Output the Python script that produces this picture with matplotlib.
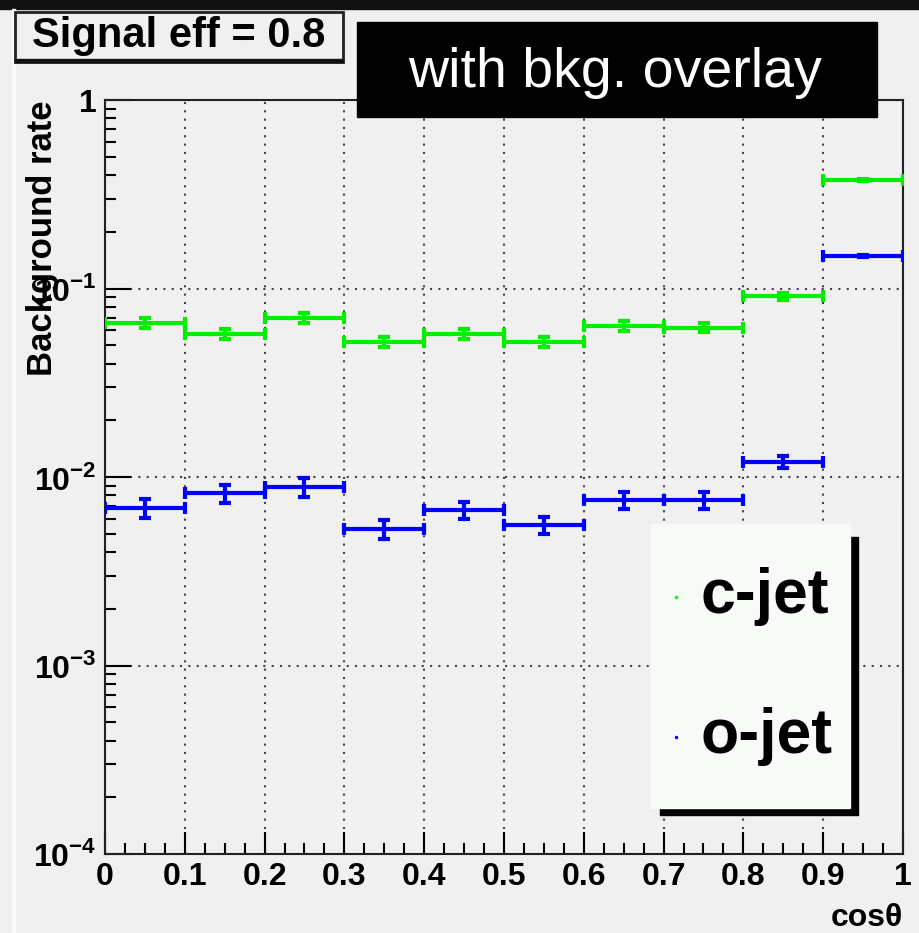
import numpy as np
import matplotlib.pyplot as plt
from matplotlib.patches import Rectangle
from matplotlib.ticker import FixedLocator, FixedFormatter, LogLocator, NullFormatter

plt.rcParams['font.family'] = ['Liberation Sans', 'DejaVu Sans']
plt.rcParams['mathtext.fontset'] = 'custom'
plt.rcParams['mathtext.rm'] = 'Liberation Sans:bold'
plt.rcParams['mathtext.bf'] = 'Liberation Sans:bold'

# bins in cos(theta)
bin_lo = np.arange(0.0, 1.0, 0.1)
bin_mid = bin_lo + 0.05

# background rates
c_jet = [0.0656, 0.0574, 0.0698, 0.0520, 0.0574, 0.0520, 0.0632, 0.0620, 0.0912, 0.376]
c_err = [0.0040, 0.0035, 0.0040, 0.0030, 0.0035, 0.0030, 0.0038, 0.0035, 0.0040, 0.0060]
o_jet = [0.00685, 0.00822, 0.00885, 0.00530, 0.00668, 0.00556, 0.00755, 0.00755, 0.0120, 0.149]
o_err = [0.00080, 0.00090, 0.00100, 0.00060, 0.00070, 0.00060, 0.00080, 0.00080, 0.00090, 0.0020]

x_ticks = [0, 0.1, 0.2, 0.3, 0.4, 0.5, 0.6, 0.7, 0.8, 0.9, 1]
x_labels = ['0', '0.1', '0.2', '0.3', '0.4', '0.5', '0.6', '0.7', '0.8', '0.9', '1']
y_ticks = [1e-4, 1e-3, 1e-2, 1e-1, 1]
y_labels = [r'$10^{-4}$', r'$10^{-3}$', r'$10^{-2}$', r'$10^{-1}$', '1']

W, H = 920, 933
BG = '#f0f0f0'


def px(x, y):
    """pixel (from top-left) -> figure fraction"""
    return x / W, 1 - y / H


fig = plt.figure(figsize=(W / 100, H / 100), dpi=100, facecolor=BG)
ax = fig.add_axes([105 / W, 1 - 854 / H, 798 / W, 754 / H], facecolor=BG)

ax.set_yscale('log')
ax.set_xlim(0, 1)
ax.set_ylim(1e-4, 1)

ax.errorbar(bin_mid, c_jet, xerr=0.05, yerr=c_err, fmt='none', ecolor='#00ee00',
            elinewidth=3, capsize=4, capthick=3, zorder=3)
ax.errorbar(bin_mid, o_jet, xerr=0.05, yerr=o_err, fmt='none', ecolor='#0000ff',
            elinewidth=3, capsize=4, capthick=3, zorder=3)

ax.xaxis.set_major_locator(FixedLocator(x_ticks))
ax.xaxis.set_major_formatter(FixedFormatter(x_labels))
ax.xaxis.set_minor_locator(FixedLocator(np.arange(0, 1.0001, 0.025)))
ax.yaxis.set_major_locator(FixedLocator(y_ticks))
ax.yaxis.set_major_formatter(FixedFormatter(y_labels))
ax.yaxis.set_minor_locator(LogLocator(base=10, subs=np.arange(2, 10)))
ax.yaxis.set_minor_formatter(NullFormatter())

ax.tick_params(which='major', direction='in', length=16, width=1.5, labelsize=23,
               top=False, right=False)
ax.tick_params(which='minor', direction='in', length=8, width=1.5, top=False, right=False)
ax.tick_params(axis='y', which='major', length=19, pad=6)
ax.tick_params(axis='x', pad=6)
for lab in ax.get_xticklabels() + ax.get_yticklabels():
    lab.set_fontweight('bold')

ax.grid(True, which='major', linestyle=(0, (1, 3)), color='#444444', linewidth=1.5)
for sp in ax.spines.values():
    sp.set_linewidth(1.5)
    sp.set_color('#222222')

ax.set_ylabel('Background rate', fontsize=25, fontweight='bold', loc='top')
ax.yaxis.set_label_coords(-0.058, 1.0)
ax.set_xlabel('cosθ', fontsize=23, fontweight='bold', loc='right')
ax.xaxis.set_label_coords(1.0, -0.065)

# top dark strip and left edge
fig.add_artist(Rectangle(px(0, 9), 1, 9 / H, transform=fig.transFigure, color='#111111'))
fig.add_artist(Rectangle(px(12, H), 3 / W, (H - 9) / H, transform=fig.transFigure,
                         color='#fafafa'))

# "Signal eff" box
fig.add_artist(Rectangle(px(15, 62), 328 / W, 50 / H, transform=fig.transFigure,
                         facecolor=BG, edgecolor='#222222', linewidth=2))
fig.add_artist(Rectangle(px(15, 62), 328 / W, 3 / H, transform=fig.transFigure,
                         color='#111111'))
fig.text(*px(179, 36), 'Signal eff = 0.8', fontsize=30, fontweight='bold',
         ha='center', va='center')

# overlay label
fig.add_artist(Rectangle(px(357, 117), 520 / W, 95 / H, transform=fig.transFigure,
                         color='black'))
fig.text(*px(615, 73), 'with bkg. overlay', fontsize=40, color='white',
         ha='center', va='center')

# legend box with shadow
fig.add_artist(Rectangle(px(660, 815), 198 / W, 278 / H, transform=fig.transFigure,
                         color='black'))
fig.add_artist(Rectangle(px(651, 808), 199 / W, 284 / H, transform=fig.transFigure,
                         color='#f7faf7'))
leg_names = ['c-jet', 'o-jet']
leg_colors = ['#00ff00', '#0000ff']
leg_y = [597, 737]
for name, col, yy in zip(leg_names, leg_colors, leg_y):
    fig.add_artist(plt.Line2D([676 / W], [1 - yy / H], marker='o', markersize=1.5,
                              color=col, transform=fig.transFigure))
    fig.text(*px(701, yy), name, fontsize=45, fontweight='bold', ha='left', va='center')

fig.savefig('out.png', dpi=100, facecolor=BG)
